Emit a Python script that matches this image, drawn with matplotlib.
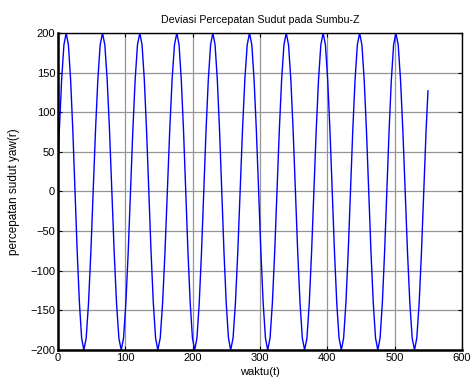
import matplotlib
matplotlib.use('Agg')
import matplotlib.pyplot as plt

plt.rcParams['font.family'] = ['Liberation Sans', 'DejaVu Sans']

# samples, one row per half swing (time, value)
waktu = [0, 2.0, 5.4, 8.8,
         12.2, 15.48, 18.75, 22.03, 25.3, 28.58, 31.85, 35.13,
         38.4, 41.86, 45.33, 48.79, 52.25, 55.71, 59.18, 62.64,
         66.1, 69.58, 73.05, 76.53, 80.0, 83.48, 86.95, 90.43,
         93.9, 97.35, 100.8, 104.25, 107.7, 111.15, 114.6, 118.05,
         121.5, 124.85, 128.2, 131.55, 134.9, 138.25, 141.6, 144.95,
         148.3, 151.83, 155.35, 158.88, 162.4, 165.93, 169.45, 172.98,
         176.5, 179.81, 183.13, 186.44, 189.75, 193.06, 196.38, 199.69,
         203.0, 206.38, 209.75, 213.13, 216.5, 219.88, 223.25, 226.63,
         230.0, 233.31, 236.63, 239.94, 243.25, 246.56, 249.88, 253.19,
         256.5, 260.0, 263.5, 267.0, 270.5, 274.0, 277.5, 281.0,
         284.5, 287.88, 291.25, 294.63, 298.0, 301.38, 304.75, 308.13,
         311.5, 314.94, 318.38, 321.81, 325.25, 328.69, 332.13, 335.56,
         339.0, 342.41, 345.83, 349.24, 352.65, 356.06, 359.48, 362.89,
         366.3, 369.74, 373.18, 376.61, 380.05, 383.49, 386.93, 390.36,
         393.8, 397.18, 400.55, 403.93, 407.3, 410.68, 414.05, 417.43,
         420.8, 424.2, 427.6, 431.0, 434.4, 437.8, 441.2, 444.6,
         448.0, 451.38, 454.75, 458.13, 461.5, 464.88, 468.25, 471.63,
         475.0, 478.35, 481.7, 485.05, 488.4, 491.75, 495.1, 498.45,
         501.8, 505.26, 508.73, 512.19, 515.65, 519.11, 522.58, 526.04,
         529.5, 532.9, 536.4, 539.8, 543.3, 546.7, 549.5]
yaw = [32, 77, 141, 185,
       200, 185, 141, 77, 0, -77, -141, -185,
       -200, -185, -141, -77, 0, 77, 141, 185,
       200, 185, 141, 77, 0, -77, -141, -185,
       -200, -185, -141, -77, 0, 77, 141, 185,
       200, 185, 141, 77, 0, -77, -141, -185,
       -200, -185, -141, -77, 0, 77, 141, 185,
       200, 185, 141, 77, 0, -77, -141, -185,
       -200, -185, -141, -77, 0, 77, 141, 185,
       200, 185, 141, 77, 0, -77, -141, -185,
       -200, -185, -141, -77, 0, 77, 141, 185,
       200, 185, 141, 77, 0, -77, -141, -185,
       -200, -185, -141, -77, 0, 77, 141, 185,
       200, 185, 141, 77, 0, -77, -141, -185,
       -200, -185, -141, -77, 0, 77, 141, 185,
       200, 185, 141, 77, 0, -77, -141, -185,
       -200, -185, -141, -77, 0, 77, 141, 185,
       200, 185, 141, 77, 0, -77, -141, -185,
       -200, -185, -141, -77, 0, 77, 141, 185,
       200, 185, 141, 77, 0, -77, -141, -185,
       -200, -185, -141, -77, 0, 77, 127]

x_ticks = [0, 100, 200, 300, 400, 500, 600]
y_ticks = [-200, -150, -100, -50, 0, 50, 100, 150, 200]

fig = plt.figure(figsize=(4.73, 3.85), dpi=100)
ax = fig.add_axes([0.1226, 0.0909, 0.8541, 0.8234])

ax.plot(waktu, yaw, color='#0000ff', linewidth=1.0)

ax.set_xlim(0, 600)
ax.set_ylim(-200, 200)
ax.set_xticks(x_ticks)
ax.set_yticks(y_ticks)
ax.grid(True, color='#959595', linewidth=0.9)
ax.tick_params(direction='in', length=3, labelsize=8, top=True, right=True,
               labeltop=False, labelright=False, pad=2)

ax.spines['left'].set_linewidth(1.8)
ax.spines['bottom'].set_linewidth(1.8)
ax.spines['top'].set_linewidth(1.0)
ax.spines['right'].set_linewidth(1.0)

ax.set_title('Deviasi Percepatan Sudut pada Sumbu-Z', fontsize=7.7, pad=7)
ax.set_xlabel('waktu(t)', fontsize=8, labelpad=3)
ax.set_ylabel('percepatan sudut yaw(r)', fontsize=8.5)
ax.yaxis.set_label_coords(-0.094, 0.5)

fig.savefig('out.png', dpi=100)
plt.close(fig)
